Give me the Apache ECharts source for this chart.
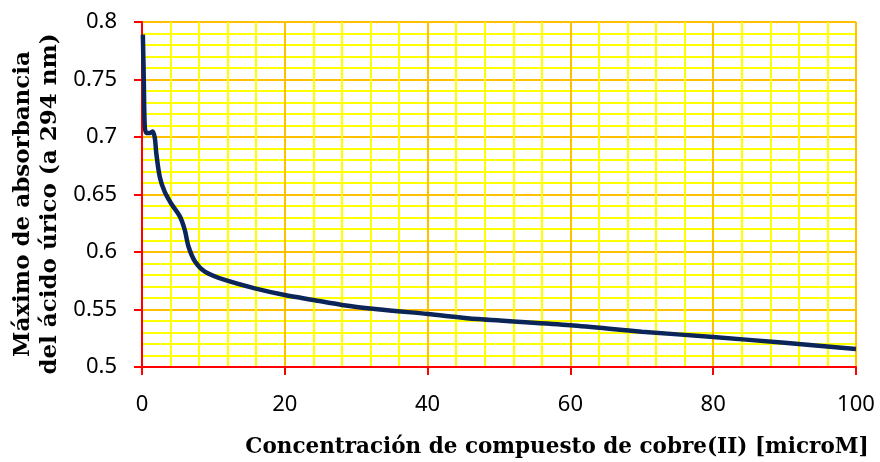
<!DOCTYPE html>
<html>
<head>
<meta charset="utf-8">
<script src="https://cdn.jsdelivr.net/npm/echarts@6/dist/echarts.min.js"></script>
<style>
html,body{margin:0;padding:0;background:#fff;}
#chart{width:880px;height:462px;}
</style>
</head>
<body>
<div id="chart"></div>
<script>
// Data
const concentration = [0.12, 0.25, 0.38, 0.6, 1.1, 1.5, 1.8, 2.0, 2.5, 3.2, 4.1, 5.3, 6.0, 6.5, 7.4, 8.8, 11.6, 15.8, 20, 24, 28, 33, 40, 47, 60, 70, 80, 90, 100];
const absorbance = [0.789, 0.75, 0.71, 0.7035, 0.7035, 0.7048, 0.699, 0.686, 0.665, 0.652, 0.642, 0.631, 0.619, 0.605, 0.592, 0.583, 0.5757, 0.5684, 0.5626, 0.5583, 0.554, 0.5502, 0.5461, 0.5417, 0.5363, 0.5307, 0.5261, 0.521, 0.5157];
const xTicks = [0, 20, 40, 60, 80, 100];
const yTicks = ['0.5', '0.55', '0.6', '0.65', '0.7', '0.75', '0.8'];
const xTitle = 'Concentración de compuesto de cobre(II) [microM]';
const yTitle = 'Máximo de absorbancia\ndel ácido úrico (a 294 nm)';

const points = concentration.map((c, i) => [c, absorbance[i]]);

const chart = echarts.init(document.getElementById('chart'), null, {renderer: 'canvas'});
const labelFont = {fontFamily: 'Noto Sans', fontSize: 22, color: '#000'};
chart.setOption({
  animation: false,
  backgroundColor: '#fff',
  grid: {left: 142, right: 24, top: 22, bottom: 95},
  xAxis: {
    type: 'value', min: xTicks[0], max: xTicks[xTicks.length - 1], interval: 20,
    axisLine: {show: true, lineStyle: {color: '#ff0000', width: 2}},
    axisTick: {show: true, length: 8, lineStyle: {color: '#ff0000', width: 2}},
    axisLabel: Object.assign({margin: 27}, labelFont),
    splitLine: {show: true, lineStyle: {color: '#ffc000', width: 2}},
    minorTick: {show: false, splitNumber: 5},
    minorSplitLine: {show: true, lineStyle: {color: '#ffff00', width: 2}}
  },
  yAxis: {
    type: 'value', min: 0.5, max: 0.8, interval: 0.05,
    axisLine: {show: true, lineStyle: {color: '#ff0000', width: 2}},
    axisTick: {show: true, length: 8, lineStyle: {color: '#ff0000', width: 2}},
    axisLabel: Object.assign({margin: 25, align: 'right', formatter: v => {
      const s = yTicks.find(t => Math.abs(parseFloat(t) - v) < 1e-6);
      return s !== undefined ? s : '';
    }}, labelFont),
    splitLine: {show: true, lineStyle: {color: '#ffc000', width: 2}},
    minorTick: {show: false, splitNumber: 5},
    minorSplitLine: {show: true, lineStyle: {color: '#ffff00', width: 2}}
  },
  series: [{
    type: 'line',
    data: points,
    smooth: 0.3,
    showSymbol: false,
    lineStyle: {color: '#0b2559', width: 4.5},
    z: 5
  }],
  graphic: [
    {
      type: 'text', x: 557, y: 447,
      style: {text: xTitle, align: 'center', verticalAlign: 'middle',
        font: 'bold 21.5px "DejaVu Serif"', fill: '#000'}
    },
    {
      type: 'text', x: 37, y: 204, rotation: Math.PI / 2,
      style: {text: yTitle, align: 'center', verticalAlign: 'middle',
        font: 'bold 23px "DejaVu Serif"', lineHeight: 27, fill: '#000'}
    }
  ]
});
</script>
</body>
</html>
